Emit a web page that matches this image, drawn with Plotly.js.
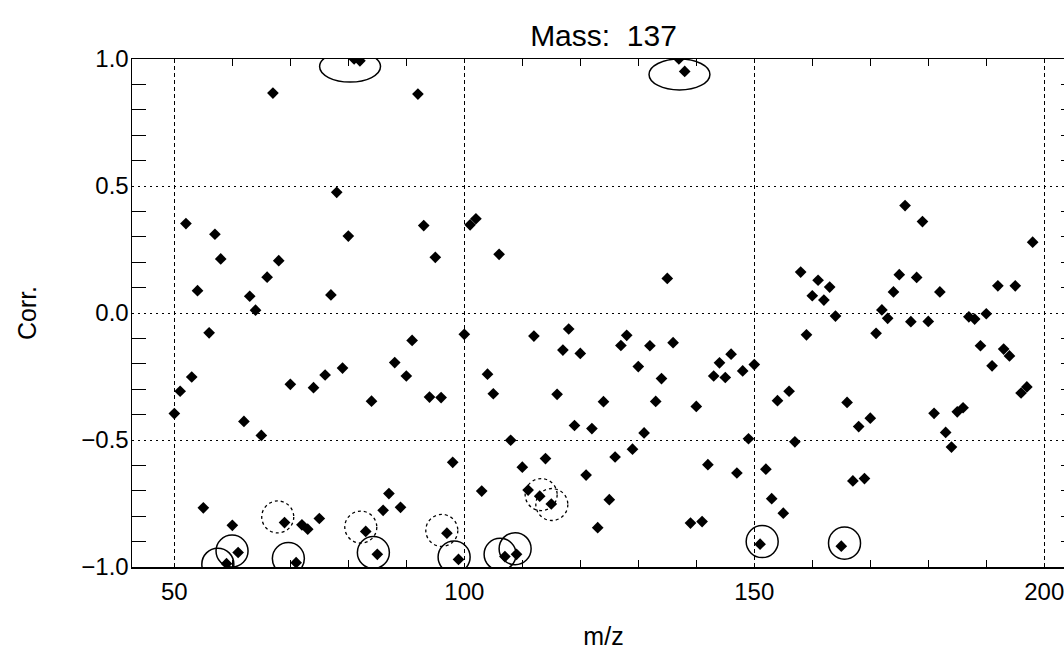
<!DOCTYPE html>
<html>
<head>
<meta charset="utf-8">
<script src="https://cdn.plot.ly/plotly-3.0.1.min.js"></script>
<style>
html,body{margin:0;padding:0;background:#fff;overflow:hidden;}
#chart{width:1090px;height:650px;}
</style>
</head>
<body>
<div id="chart"></div>
<script>
// m/z values (integer masses 50..198)
const mass = [50,51,52,53,54,55,56,57,58,59,60,61,62,63,64,65,66,67,68,69,
70,71,72,73,74,75,76,77,78,79,80,81,82,83,84,85,86,87,88,89,
90,91,92,93,94,95,96,97,98,99,100,101,102,103,104,105,106,107,108,109,
110,111,112,113,114,115,116,117,118,119,120,121,122,123,124,125,126,127,128,129,
130,131,132,133,134,135,136,137,138,139,140,141,142,143,144,145,146,147,148,149,
150,151,152,153,154,155,156,157,158,159,160,161,162,163,164,165,166,167,168,169,
170,171,172,173,174,175,176,177,178,179,180,181,182,183,184,185,186,187,188,189,
190,191,192,193,194,195,196,197,198];

// correlation with mass 137
const corr = [-0.396,-0.308,0.352,-0.252,0.088,-0.767,-0.078,0.310,0.213,-0.987,
-0.836,-0.943,-0.427,0.066,0.011,-0.482,0.141,0.866,0.206,-0.825,
-0.281,-0.983,-0.834,-0.851,-0.294,-0.809,-0.244,0.071,0.475,-0.217,
0.303,1.000,0.993,-0.860,-0.347,-0.950,-0.777,-0.711,-0.195,-0.765,
-0.248,-0.108,0.862,0.344,-0.331,0.219,-0.333,-0.867,-0.588,-0.970,
-0.084,0.347,0.371,-0.701,-0.241,-0.318,0.231,-0.959,-0.501,-0.950,
-0.607,-0.697,-0.091,-0.721,-0.573,-0.752,-0.320,-0.146,-0.063,-0.443,
-0.159,-0.638,-0.455,-0.845,-0.349,-0.735,-0.567,-0.128,-0.088,-0.536,
-0.211,-0.472,-0.129,-0.348,-0.258,0.136,-0.117,1.000,0.951,-0.827,
-0.368,-0.821,-0.597,-0.248,-0.196,-0.254,-0.162,-0.630,-0.228,-0.495,
-0.203,-0.910,-0.615,-0.731,-0.345,-0.788,-0.308,-0.507,0.161,-0.086,
0.068,0.129,0.051,0.102,-0.012,-0.918,-0.352,-0.661,-0.447,-0.652,
-0.414,-0.080,0.012,-0.021,0.083,0.151,0.423,-0.034,0.140,0.360,
-0.033,-0.395,0.083,-0.470,-0.528,-0.389,-0.373,-0.015,-0.024,-0.129,
-0.003,-0.208,0.107,-0.142,-0.169,0.107,-0.315,-0.291,0.279];

// annotation rings (data coordinates of ring centres)
const solidRingX = [57.5,59.95,69.66,84.32,98.24,106.17,108.76,151.36,165.56];
const solidRingY = [-0.989,-0.937,-0.967,-0.943,-0.961,-0.950,-0.928,-0.900,-0.906];
const dotRingX = [67.83,82.15,96.12,113.25,115.09];
const dotRingY = [-0.803,-0.843,-0.856,-0.715,-0.754];
const ellipseX = [80.3,137.1];
const ellipseY = [0.970,0.939];

const titleText = 'Mass:\u00a0 137';
const xTitle = 'm/z';
const yTitle = 'Corr.';

const ringRx = 2.76, ringRy = 0.063;
const ellRx = 5.25, ellRy = 0.061;

const shapes = [];
solidRingX.forEach((cx,i)=>{
  shapes.push({type:'circle',xref:'x',yref:'y',x0:cx-ringRx,x1:cx+ringRx,
    y0:solidRingY[i]-ringRy,y1:solidRingY[i]+ringRy,line:{color:'#000',width:1.5},layer:'above'});
});
dotRingX.forEach((cx,i)=>{
  shapes.push({type:'circle',xref:'x',yref:'y',x0:cx-ringRx,x1:cx+ringRx,
    y0:dotRingY[i]-ringRy,y1:dotRingY[i]+ringRy,line:{color:'#000',width:1.3,dash:'dot'},layer:'above'});
});
ellipseX.forEach((cx,i)=>{
  shapes.push({type:'circle',xref:'x',yref:'y',x0:cx-ellRx,x1:cx+ellRx,
    y0:ellipseY[i]-ellRy,y1:ellipseY[i]+ellRy,line:{color:'#000',width:1.5},layer:'above'});
});

const font = 'Liberation Sans, Arial, Helvetica, sans-serif';

const trace = {
  x: mass, y: corr, type:'scatter', mode:'markers',
  marker:{symbol:'diamond', size:9, color:'#000', line:{width:0}},
  cliponaxis:true, hoverinfo:'x+y'
};

const layout = {
  width:1090, height:650,
  margin:{l:132,r:15,t:59,b:83},
  paper_bgcolor:'#fff', plot_bgcolor:'#fff',
  showlegend:false,
  font:{family:font,color:'#000',size:24},
  title:{text:titleText, x:0.5, xref:'paper', xanchor:'center', y:0.945, yref:'container', yanchor:'middle',
    font:{family:font,size:30,color:'#000'}},
  xaxis:{
    range:[42.7,205.3], tickmode:'linear', tick0:0, dtick:50,
    showline:true, linecolor:'#000', linewidth:1.5, mirror:'allticks',
    ticks:'', showgrid:true, gridcolor:'#000', gridwidth:1, griddash:'4px,3px',
    zeroline:false,
    minor:{dtick:10, tick0:0, ticks:'inside', ticklen:7, tickwidth:1.2, tickcolor:'#000', showgrid:false},
    tickfont:{family:font,size:24,color:'#000'},
    ticklabelstandoff:3,
    title:{text:xTitle, font:{family:font,size:25,color:'#000'}, standoff:26},
    automargin:false
  },
  yaxis:{
    range:[-1,1], tickmode:'linear', tick0:0, dtick:0.5, tickformat:'.1f',
    showline:true, linecolor:'#000', linewidth:1.5, mirror:'allticks',
    ticks:'', showgrid:true, gridcolor:'#000', gridwidth:1, griddash:'2px,4px',
    zeroline:false,
    minor:{dtick:0.1, tick0:0, ticks:'inside', ticklen:14, tickwidth:1.2, tickcolor:'#000', showgrid:false},
    tickfont:{family:font,size:24,color:'#000'},
    ticklabelstandoff:-3,
    title:{text:yTitle, font:{family:font,size:25,color:'#000'}, standoff:37},
    automargin:false
  },
  shapes: shapes
};

Plotly.newPlot('chart',[trace],layout,{displayModeBar:false,staticPlot:true});
</script>
</body>
</html>
